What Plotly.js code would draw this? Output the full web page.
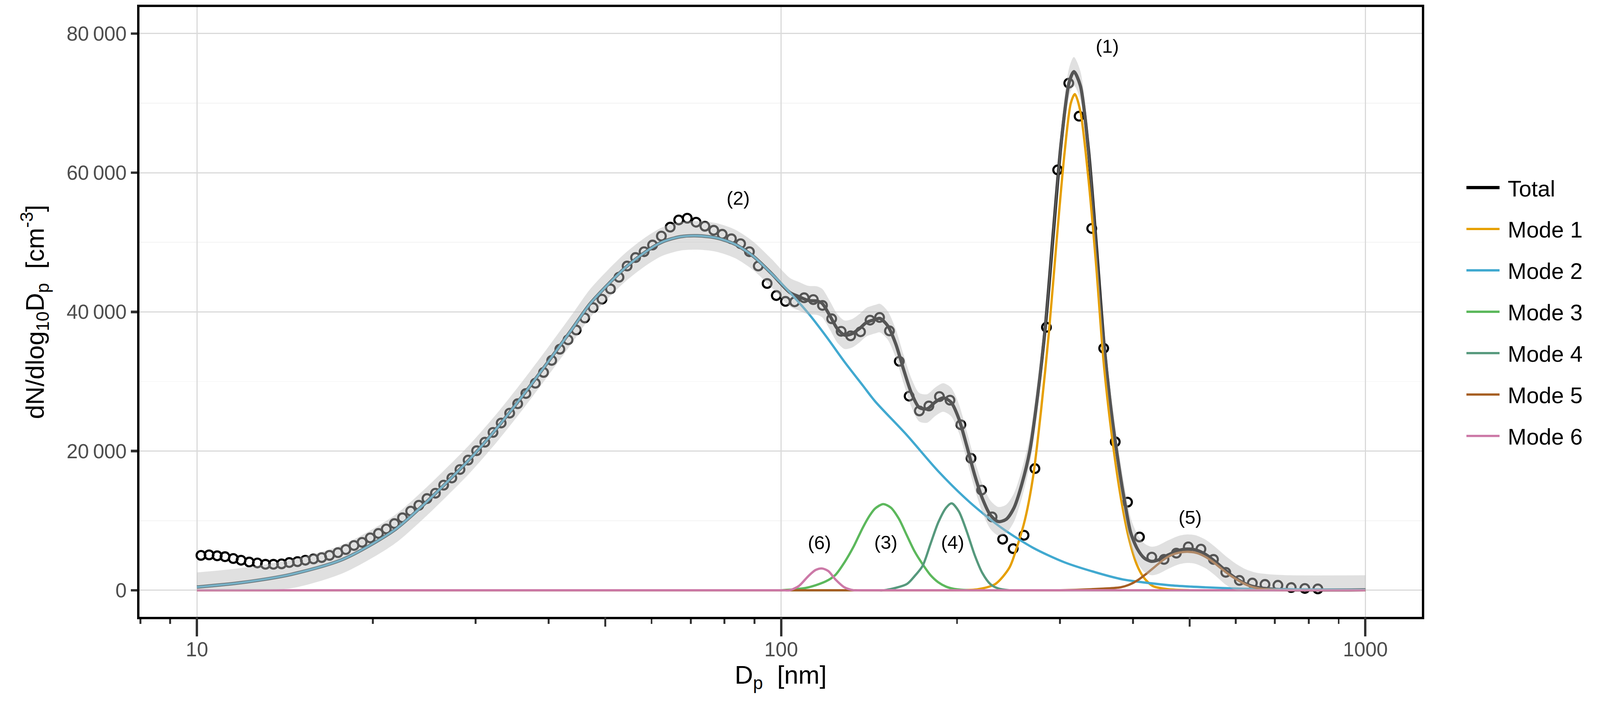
<!DOCTYPE html>
<html>
<head>
<meta charset="utf-8">
<script src="https://cdn.plot.ly/plotly-3.0.1.min.js"></script>
<style>
  html, body { margin: 0; padding: 0; background: #fff; overflow: hidden; }
</style>
</head>
<body>
<div id="psd"></div>
<script>
// measured size distribution (open circles)
var obsDp = [10.16, 10.49, 10.83, 11.17, 11.54, 11.90, 12.29, 12.69, 13.10, 13.52, 13.96, 14.39, 14.86, 15.33, 15.83,
  16.35, 16.86, 17.43, 17.98, 18.57, 19.17, 19.80, 20.45, 21.09, 21.78, 22.48, 23.22, 23.98, 24.76, 25.60, 26.44,
  27.31, 28.20, 29.12, 30.11, 31.10, 32.12, 33.17, 34.30, 35.40, 36.56,
  37.95, 39.20, 40.48, 41.80, 43.17, 44.58, 46.10, 47.66, 49.35, 51.03, 52.77, 54.49, 56.34, 58.26, 60.24, 62.37,
  64.58, 66.78, 69.06, 71.51, 74.04, 76.66, 79.27, 82.19, 85.22, 88.24, 91.37, 94.62, 98.10, 101.71, 105.45, 109.48,
  113.51, 117.68, 122.03, 126.67, 131.51, 136.72, 141.96, 147.38, 153.23, 159.30, 165.60, 172.40, 179.00, 186.60,
  194.52, 203.05, 211.35, 220.30, 229.64, 239.40, 249.55, 260.45, 271.86, 284.50, 297.37,
  310.7, 323.6, 340.1, 356.5, 373.1, 391.6, 410.5, 430.9, 452.2, 474.7, 497.6, 523.0, 549.5, 576.8, 608.6, 640.5,
  673.2, 708.4, 746.5, 787.7, 829.1];
var obsN = [5010, 5080, 4950, 4820, 4560, 4310, 4050, 3920, 3730, 3730, 3790, 3980, 4110, 4310, 4500,
  4690, 5010, 5400, 5850, 6430, 6880, 7520, 8160, 8800, 9580, 10410, 11370, 12210, 13170, 13940, 15100,
  16130, 17350, 18700, 20050, 21270, 22680, 24030, 25450, 26800, 28270,
  29750, 31300, 33030, 34640, 35990, 37400, 39130, 40610, 41830, 43310, 44980, 46590, 47810, 48650, 49610, 50890,
  52180, 53210, 53460, 52890, 52310, 51730, 51150, 50510, 49800, 48650, 46590, 44080, 42350, 41510, 41450, 42030,
  41770, 40930, 39010, 37210, 36560, 37140, 38810, 39200, 37270, 32900, 27890, 25770, 26480, 27830,
  27310, 23780, 18960, 14390, 10540, 7330, 5980, 7900, 17480, 37790, 60400,
  72870, 68120, 51990, 34770, 21330, 12660, 7650, 4760, 4430, 5330, 6230, 5910, 4430, 2570, 1410, 1030,
  835, 707, 386, 257, 193];

// fitted total with its confidence band
var totalDp = [10, 11.9, 14.5, 17.8, 21.7, 24.0, 26.5, 29.4, 32.5, 35.9, 39.7, 43.9, 47.0, 50.5, 54.2, 58.2, 62.5,
  67.2, 71.9, 77.6, 83.4, 89.6, 96.3, 103.5, 107.3, 111.2, 115.3, 117.6, 121.3, 124.8, 128.4, 132.1, 136.0, 140.0,
  144.8, 147.6, 152.2, 157.1, 162.0, 167.1, 172.4, 177.9, 183.5, 189.3, 195.3, 201.4, 207.8, 214.4, 221.1, 228.1,
  235.3, 242.7, 250.4, 258.3, 266.4, 274.8, 283.5, 292.4, 301.7, 311.2, 317.0, 325.1, 335.4, 345.9, 356.9, 368.2,
  380.9, 387.4, 396.6, 407.4, 418.5, 429.9, 441.6, 459.6, 478.5, 494.8, 511.7, 532.6, 554.3, 577.0, 600.7, 625.3,
  651.0, 696.0, 744.1, 1000];
var totalN = [459, 1088, 2280, 4470, 8556, 11694, 15143, 18970, 23147, 27696, 32560, 37580, 41080, 43917, 46410,
  48450, 50033, 50805, 50940, 50625, 49716, 47994, 45500, 42780, 42190, 41650, 41560, 41200, 39380, 37570, 36670,
  36850, 37570, 38480, 38900, 39060, 38010, 35390, 31740, 28340, 26240, 26080, 27030, 27650, 27030, 24670, 20750,
  16570, 13160, 10810, 9870, 10190, 11860, 15300, 20000, 28000, 38200, 51500, 64500, 73000, 74520, 72530, 63640,
  50040, 35390, 25000, 16300, 12630, 8255, 5886, 4610, 4155, 4337, 5067, 5703, 5921, 5795, 5155, 4062, 2788,
  1695, 875, 419, 146, 55, 55];
var bandHi = [2560, 3190, 4380, 6570, 10660, 13790, 17240, 21070, 25250, 29800, 34660, 39680, 43180, 46020, 48510,
  50550, 52130, 52910, 53040, 52730, 51820, 50090, 47600, 44880, 44290, 43750, 43660, 43300, 41480, 39670, 38770,
  38950, 39670, 40580, 41000, 41160, 40110, 37490, 33840, 30440, 28340, 28180, 29130, 29750, 29130, 26770, 22850,
  18670, 15260, 12910, 11970, 12290, 13960, 17400, 22100, 30100, 40300, 53600, 66600, 75100, 76620, 74630, 65740,
  52140, 37490, 27100, 18400, 14730, 10360, 7990, 6710, 6260, 6440, 7170, 7800, 8020, 7900, 7260, 6160, 4890,
  3800, 2980, 2520, 2250, 2150, 2150];
var bandLo = [0, 0, 280, 2470, 6560, 9690, 13140, 16970, 21150, 25700, 30560, 35580, 39080, 41920, 44410,
  46450, 48030, 48810, 48940, 48630, 47720, 45990, 43500, 40780, 40190, 39650, 39560, 39200, 37380, 35570, 34670,
  34850, 35570, 36480, 36900, 37060, 36010, 33390, 29740, 26340, 24240, 24080, 25030, 25650, 25030, 22670, 18750,
  14570, 11160, 8810, 7870, 8190, 9860, 13300, 18000, 26000, 36200, 49500, 62500, 71000, 72520, 70530, 61640,
  48040, 33390, 23000, 14300, 10630, 6260, 3890, 2610, 2160, 2340, 3070, 3700, 3920, 3800, 3160, 2060, 790,
  0, 0, 0, 0, 0, 0];

// fitted modes
var mode1Dp = [10, 190, 200, 217.0, 232.4, 245.8, 253.5, 261.5, 269.8, 278.4, 287.1, 296.2, 305.5, 313.2, 318.2,
  325.1, 335.4, 345.9, 356.9, 370.4, 382.3, 394.0, 406.1, 417.1, 432.7, 459.6, 500, 515, 1000];
var mode1N = [0, 0, 0, 140, 875, 3230, 6300, 10200, 16200, 25700, 36800, 50300, 62800, 70000, 71300,
  68870, 59450, 46900, 32260, 20500, 12810, 7340, 3700, 1875, 600, 146, 0, 0, 0];
var mode2Dp = [10, 11.9, 14.5, 17.8, 21.7, 24.0, 26.5, 29.4, 32.5, 35.9, 39.7, 43.9, 47.0, 50.5, 54.2, 58.2, 62.5,
  67.2, 71.9, 77.6, 83.4, 89.6, 96.3, 103.5, 111.2, 119.5, 128.4, 138.0, 144.8, 164.0, 185.8, 210.3, 238.2, 269.8,
  305.5, 345.9, 384.1, 407.4, 465.8, 532.6, 608.7, 696.0, 1000];
var mode2N = [459, 1088, 2280, 4470, 8556, 11694, 15143, 18970, 23147, 27696, 32560, 37580, 41080, 43917, 46410,
  48450, 50033, 50805, 50940, 50625, 49716, 47994, 45500, 42780, 39840, 36440, 32810, 29410, 27150, 22320, 17090,
  12645, 8982, 6107, 4013, 2553, 1558, 1240, 693, 419, 237, 146, 55];
var mode3Dp = [10, 95, 100, 111.2, 119.5, 123.9, 128.4, 133.1, 138.0, 142.0, 144.8, 149.5, 154.1, 159.0, 164.0,
  169.2, 174.6, 180.1, 185.8, 191.6, 197.7, 210.3, 220, 1000];
var mode3N = [0, 0, 0, 405, 1312, 2220, 4030, 6298, 9015, 10830, 11740, 12380, 11860, 10290, 7938,
  5582, 3750, 2181, 1137, 514, 197, 0, 0, 0];
var mode4Dp = [10, 145, 150, 164.0, 169.2, 174.6, 180.1, 185.8, 191.6, 195.8, 201.4, 207.8, 214.4, 221.1, 228.1,
  235.3, 245.8, 255, 1000];
var mode4N = [0, 0, 0, 875, 2028, 3493, 6631, 9770, 11860, 12490, 11340, 8457, 5062, 2444, 875, 251, 0, 0, 0];
var mode5Dp = [10, 290, 300, 356.3, 380.9, 394.0, 407.4, 421.3, 435.6, 450.5, 465.8, 481.7, 498.1, 515.1, 532.6,
  550.6, 569.4, 588.7, 608.7, 629.6, 651.0, 673.1, 720, 735, 1000];
var mode5N = [0, 0, 0, 237, 419, 784, 1421, 2333, 3335, 4337, 5067, 5430, 5522, 5340, 4794,
  3974, 2970, 2060, 1330, 693, 328, 146, 0, 0, 0];
var mode6Dp = [10, 100, 103.5, 107.3, 111.2, 114.5, 117.4, 120.4, 123.9, 128.4, 133.1, 137, 1000];
var mode6N = [0, 0, 0, 634, 1995, 2898, 3127, 2761, 1536, 405, 0, 0, 0];

var modeNames = ["Mode 1", "Mode 2", "Mode 3", "Mode 4", "Mode 5", "Mode 6"];
var modeColors = ["#E69F00", "#41A9D0", "#5CB85C", "#56997D", "#A65E22", "#CC79A7"];

// mode labels
var labelText = ["(1)", "(2)", "(3)", "(4)", "(5)", "(6)"];
var labelDp = [361.7, 84.5, 151.1, 196.7, 501.2, 116.3];
var labelN = [78200, 56350, 6890, 6890, 10480, 6850];

// axis ticks
var yTickVals = [0, 20000, 40000, 60000, 80000];
var yTickText = ["0", "20\u2009000", "40\u2009000", "60\u2009000", "80\u2009000"];
var xTickVals = [10, 100, 1000];
var xTickText = ["10", "100", "1000"];
var xMidTicks = [50, 500];
var xSmallTicks = [8, 9, 20, 30, 40, 60, 70, 80, 90, 200, 300, 400, 600, 700, 800, 900];
var xMinorGrid = [31.62, 316.2];

// everything was measured on a 4205 px wide picture; scale to the real viewport
var k = Math.min(window.innerWidth / 4205, window.innerHeight / 1843);
function px(v) { return v * k; }

var font = "Liberation Sans, Arial, sans-serif";
var pad = "\u00a0";

var data = [];
data.push({
  x: obsDp, y: obsN, type: 'scatter', mode: 'markers', showlegend: false, hoverinfo: 'skip',
  marker: {symbol: 'circle-open', size: px(23), color: '#000000', line: {width: px(5.5)}}
});
data.push({
  x: totalDp, y: totalN, type: 'scatter', mode: 'lines', name: pad + 'Total', legendgroup: 'total',
  line: {color: '#000000', width: px(8.5), shape: 'spline', smoothing: 0.8}
});
var modesDp = [mode1Dp, mode2Dp, mode3Dp, mode4Dp, mode5Dp, mode6Dp];
var modesN = [mode1N, mode2N, mode3N, mode4N, mode5N, mode6N];
modesDp.forEach(function(dp, i) {
  data.push({
    x: dp, y: modesN[i], type: 'scatter', mode: 'lines', name: pad + modeNames[i], legendgroup: 'm' + i,
    line: {color: modeColors[i], width: px(6), shape: 'spline', smoothing: 0.8}
  });
});
// band on the overlay axis so it sits over points and lines
data.push({
  x: totalDp, y: bandLo, xaxis: 'x2', type: 'scatter', mode: 'lines', showlegend: false, hoverinfo: 'skip',
  line: {width: 0, shape: 'spline', smoothing: 0.8}
});
data.push({
  x: totalDp, y: bandHi, xaxis: 'x2', type: 'scatter', mode: 'lines', showlegend: false, hoverinfo: 'skip',
  fill: 'tonexty', fillcolor: 'rgba(187,187,187,0.455)',
  line: {width: 0, shape: 'spline', smoothing: 0.8}
});

var xRange = [0.9016, 3.0967];
var annotations = labelText.map(function(t, i) {
  return {x: Math.log10(labelDp[i]), y: labelN[i], xref: 'x', yref: 'y', text: t, showarrow: false,
    font: {family: font, size: px(50), color: '#000000'}};
});

var layout = {
  width: px(4205), height: px(1843),
  margin: {l: px(367), r: px(468), t: px(18), b: px(222), pad: 0},
  paper_bgcolor: '#ffffff', plot_bgcolor: '#ffffff',
  font: {family: font, color: '#000000'},
  showlegend: true,
  legend: {
    xref: 'container', yref: 'container', x: 0.9153, y: 0.757, xanchor: 'left', yanchor: 'top',
    font: {family: font, size: px(59), color: '#000000'}, itemwidth: Math.max(30, px(87)),
    tracegroupgap: px(29), bgcolor: 'rgba(0,0,0,0)', borderwidth: 0
  },
  // labelled axis: short tick under each label, light major grid, small log ticks
  xaxis: {
    type: 'log', range: xRange, autorange: false,
    tickmode: 'array', tickvals: xTickVals, ticktext: xTickText,
    ticks: 'outside', ticklen: px(34), tickwidth: px(6), tickcolor: '#333333',
    tickfont: {family: font, size: px(53), color: '#4D4D4D'},
    showgrid: true, gridcolor: '#DADADA', gridwidth: px(3), zeroline: false,
    showline: true, mirror: true, linewidth: px(6), linecolor: '#000000',
    minor: {tickmode: 'array', tickvals: xSmallTicks, ticks: 'outside', ticklen: px(12), tickwidth: px(5),
      tickcolor: '#333333', showgrid: false},
    title: {text: 'D<sub>p</sub>  [nm]', font: {family: font, size: px(67), color: '#000000'}, standoff: px(8)}
  },
  // long decade ticks and medium ticks at 50 and 500
  xaxis2: {
    type: 'log', range: xRange, autorange: false, overlaying: 'x', anchor: 'y', side: 'bottom',
    tickmode: 'array', tickvals: xTickVals, showticklabels: false,
    ticks: 'outside', ticklen: px(50), tickwidth: px(6), tickcolor: '#333333',
    showgrid: false, zeroline: false, showline: false,
    minor: {tickmode: 'array', tickvals: xMidTicks, ticks: 'outside', ticklen: px(25), tickwidth: px(5),
      tickcolor: '#333333', showgrid: false}
  },
  // faint minor grid between the decades
  xaxis3: {
    type: 'log', range: xRange, autorange: false, overlaying: 'x', anchor: 'y', side: 'bottom',
    tickmode: 'array', tickvals: xMinorGrid, showticklabels: false, ticks: '',
    showgrid: true, gridcolor: '#F2F2F2', gridwidth: px(2), zeroline: false, showline: false
  },
  yaxis: {
    range: [-3827, 83811], autorange: false,
    tickmode: 'array', tickvals: yTickVals, ticktext: yTickText,
    ticks: 'outside', ticklen: px(17), tickwidth: px(6.5), tickcolor: '#333333',
    tickfont: {family: font, size: px(53), color: '#4D4D4D'},
    showgrid: true, gridcolor: '#DADADA', gridwidth: px(3), zeroline: false,
    showline: true, mirror: true, linewidth: px(6), linecolor: '#000000',
    minor: {tickmode: 'array', tickvals: [10000, 30000, 50000, 70000], ticks: '', showgrid: true,
      gridcolor: '#F2F2F2', gridwidth: px(2)},
    title: {text: 'dN/dlog<sub>10</sub>D<sub>p</sub>  [cm<sup>-3</sup>]',
      font: {family: font, size: px(67), color: '#000000'}, standoff: px(40)}
  },
  annotations: annotations
};

Plotly.newPlot('psd', data, layout, {displayModeBar: false, staticPlot: true});
</script>
</body>
</html>
